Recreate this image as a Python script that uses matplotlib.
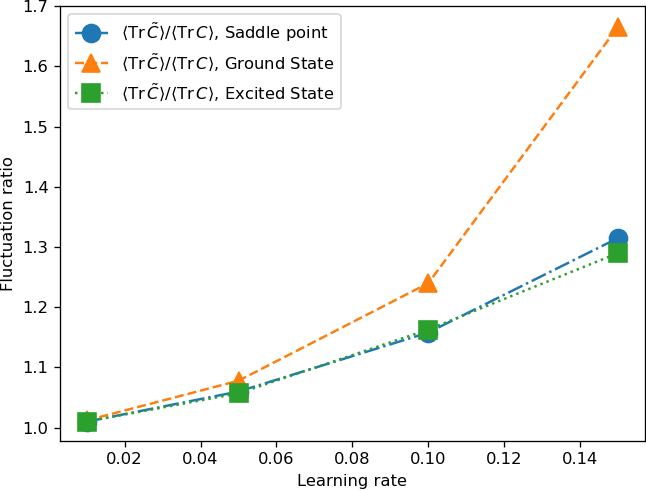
import matplotlib
matplotlib.use("Agg")
import matplotlib.pyplot as plt

# learning rates and fluctuation ratios
lr = [0.01, 0.05, 0.10, 0.15]
saddle = [1.010, 1.060, 1.158, 1.315]
ground = [1.012, 1.078, 1.240, 1.666]
excited = [1.010, 1.057, 1.163, 1.290]

ratio = r'$\langle \mathrm{Tr}\,\tilde{C}\rangle / \langle \mathrm{Tr}\,C\rangle$'

dpi = 118
fig, ax = plt.subplots(figsize=(646 / dpi, 491 / dpi), dpi=dpi)
ax.plot(lr, saddle, 'o-.', markersize=11, label=ratio + ', Saddle point')
ax.plot(lr, ground, '^--', markersize=11, label=ratio + ', Ground State')
ax.plot(lr, excited, 's:', markersize=11, label=ratio + ', Excited State')

ax.set_ylim(0.978, 1.7005)
ax.set_xlabel('Learning rate')
ax.set_ylabel('Fluctuation ratio')
ax.legend(loc='upper left')

plt.subplots_adjust(left=0.093, right=0.998, top=0.988, bottom=0.102)
plt.savefig('out.png')
